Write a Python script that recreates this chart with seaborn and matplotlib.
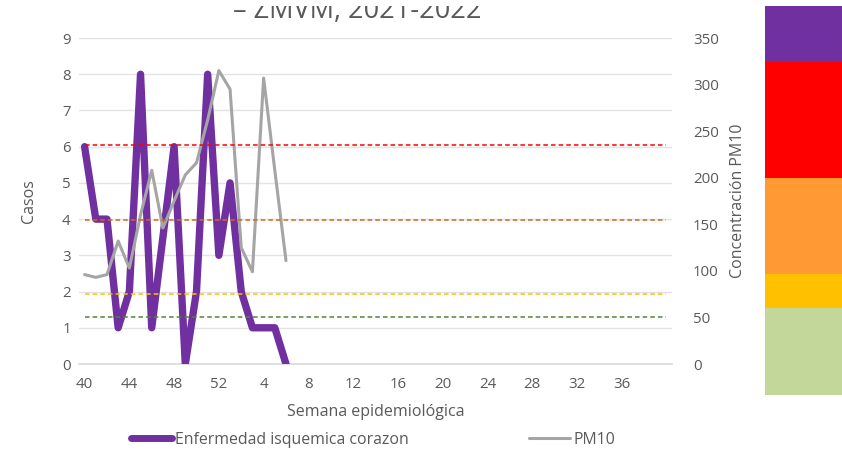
import numpy as np
import pandas as pd
import matplotlib
matplotlib.use("Agg")
import matplotlib.pyplot as plt
import seaborn as sns
from matplotlib.patches import Rectangle
from matplotlib.lines import Line2D

sns.set_theme(style="white")
plt.rcParams['font.family'] = ['Open Sans', 'DejaVu Sans']

# ---- data ----
weeks = list(range(40, 53)) + list(range(1, 41))          # epidemiological weeks (categories)
casos = [6, 4, 4, 1, 2, 8, 1, 3.5, 6, 0, 2, 8, 3, 5, 2, 1, 1, 1, 0]
pm10 = [96, 93, 96, 132, 103, 160, 208, 146, 175, 203, 216, 262, 315, 295, 125, 99, 307, 208, 111]
umbrales = [235, 155, 75, 50]
umbral_colores = ["#FF0000", "#D2691E", "#FFC000", "#548235"]
tick_labels = [str(w) for w in weeks]

TEXT = "#595959"
W, H = 842, 451
fig = plt.figure(figsize=(W / 100, H / 100), dpi=100)
ax = fig.add_axes([79 / W, 1 - 364 / H, (672 - 79) / W, (364 - 38) / H])
ax2 = ax.twinx()

pos = np.arange(len(casos))
df = pd.DataFrame({"pos": pos, "casos": casos, "pm10": pm10})

sns.lineplot(data=df, x="pos", y="casos", ax=ax, color="#7030A0", linewidth=5.3,
             solid_joinstyle="round", solid_capstyle="round", zorder=3, legend=False)
sns.lineplot(data=df, x="pos", y="pm10", ax=ax2, color="#A5A5A5", linewidth=2.2,
             zorder=3, legend=False)
for v, c in zip(umbrales, umbral_colores):
    ax2.hlines(v, 0, len(weeks) - 1, colors=c, linestyles=(0, (3, 2)), linewidth=1.1, zorder=4)

n = len(weeks)
ax.set_xlim(-0.5, n - 0.5)
ax.set_ylim(0, 9)
ax2.set_ylim(0, 350)
ax.set_yticks(range(0, 10))
ax2.set_yticks(range(0, 351, 50))
tick_idx = list(range(0, 49, 4))
ax.set_xticks(tick_idx)
ax.set_xticklabels([tick_labels[i] for i in tick_idx])

ax.grid(axis="y", color="#E3E3E3", linewidth=1)
ax.set_axisbelow(True)
for a in (ax, ax2):
    for s in a.spines.values():
        s.set_visible(False)
ax.spines["bottom"].set_visible(True)
ax.spines["bottom"].set_color("#D9D9D9")
ax.spines["bottom"].set_linewidth(1.2)

ax.tick_params(axis="both", length=0, labelsize=10.8, labelcolor=TEXT)
ax.tick_params(axis="x", pad=9)
ax.tick_params(axis="y", pad=6)
ax2.tick_params(axis="y", length=0, labelsize=10.8, labelcolor=TEXT, pad=15)

ax.set_xlabel("Semana epidemiológica", fontsize=11.5, color=TEXT, labelpad=9)
ax.set_ylabel("Casos", fontsize=11.5, color=TEXT, labelpad=18)
ax2.set_ylabel("Concentración PM10", fontsize=11.5, color=TEXT, labelpad=8)

# title (partially clipped at the top)
fig.text(233 / W, 1 - 18.5 / H, "– ZMVM, 2021-2022", fontsize=19.5, color=TEXT,
         ha="left", va="baseline")
fig.patches.append(Rectangle((0, 1 - 6 / H), 1, 6 / H, transform=fig.transFigure,
                             facecolor="white", edgecolor="none", zorder=10))

# color scale bar on the right
bands = [(5, 61.7, "#7030A0"), (61.7, 178, "#FF0000"), (178, 274, "#FF9933"),
         (274, 308, "#FFC000"), (308, 395, "#C4D79B")]
for y0, y1, c in bands:
    fig.patches.append(Rectangle((765 / W, 1 - y1 / H), (842 - 765) / W, (y1 - y0) / H,
                                 transform=fig.transFigure, facecolor=c,
                                 edgecolor="none", zorder=5))

handles = [Line2D([], [], color="#7030A0", linewidth=5, solid_capstyle="round"),
           Line2D([], [], color="#A5A5A5", linewidth=2.2)]
fig.legend(handles, ["Enfermedad isquemica corazon", "PM10"], loc="center",
           bbox_to_anchor=(373 / W, 1 - 440 / H), ncol=2, frameon=False,
           fontsize=11.4, labelcolor=TEXT, handlelength=2.6, handletextpad=0.2,
           columnspacing=7.6)

fig.savefig("out.png", dpi=100)
